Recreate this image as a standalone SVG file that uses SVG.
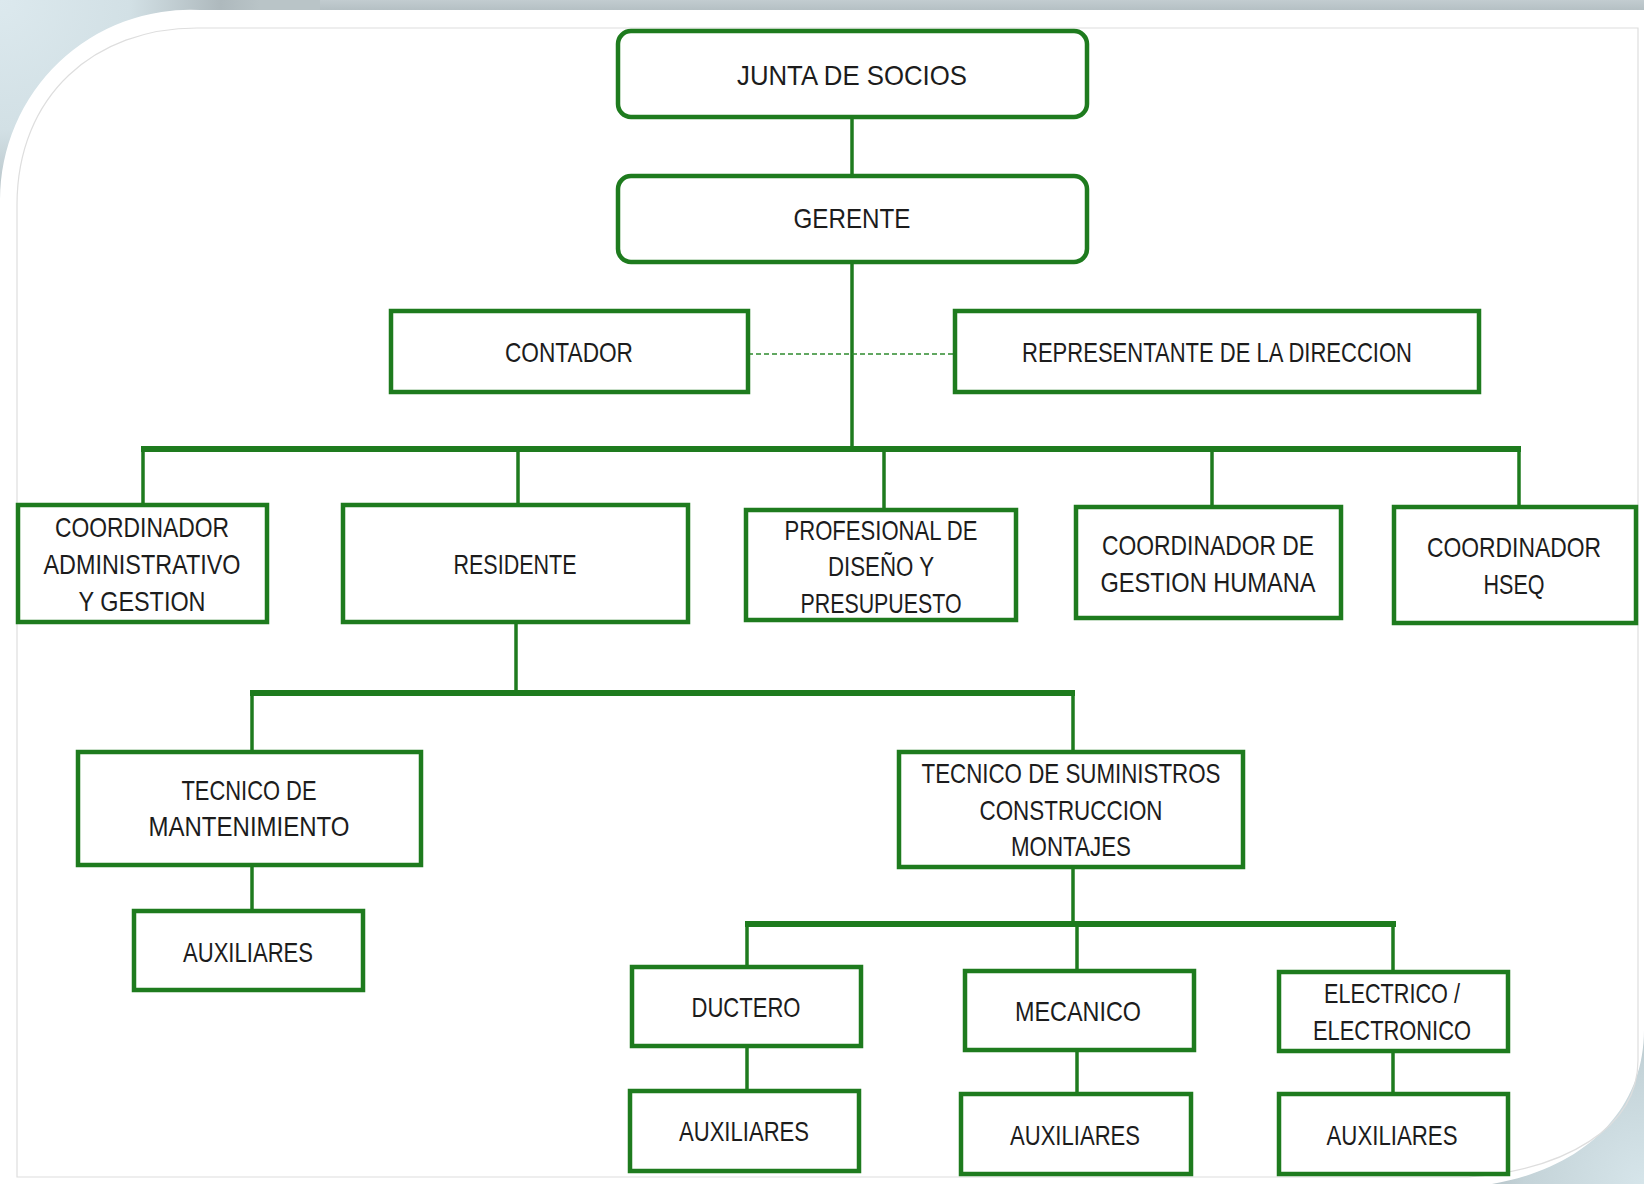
<svg xmlns="http://www.w3.org/2000/svg" width="1644" height="1184" viewBox="0 0 1644 1184">
<style>
.box{fill:#fff;stroke:#1e7b1e;stroke-width:4.5}
.t{font-family:"Liberation Sans",Arial,sans-serif;font-size:28px;fill:#1c1c1c;text-anchor:middle}
.v{stroke:#1e7b1e;stroke-width:3.5;fill:none}
.bar{stroke:#1e7b1e;stroke-width:6;fill:none}
.dash{stroke:#2e8b2e;stroke-width:1.5;stroke-dasharray:5 3;fill:none}
</style>
<defs>
<radialGradient id="gTL" cx="0" cy="0" r="260" gradientUnits="userSpaceOnUse">
<stop offset="0" stop-color="#dce9ee"/><stop offset="0.5" stop-color="#d2e0e5"/><stop offset="0.85" stop-color="#aeb9bd"/><stop offset="1" stop-color="#b9c4c7"/>
</radialGradient>
<radialGradient id="gBR" cx="1644" cy="1184" r="200" gradientUnits="userSpaceOnUse">
<stop offset="0" stop-color="#d6e5ea"/><stop offset="0.6" stop-color="#c4d3d8"/><stop offset="1" stop-color="#a4b0b4"/>
</radialGradient>
<linearGradient id="gTop" x1="0" y1="0" x2="0" y2="10" gradientUnits="userSpaceOnUse">
<stop offset="0" stop-color="#c2ccd0"/><stop offset="1" stop-color="#b5c0c4"/>
</linearGradient>
</defs>
<g id="background">
<rect x="0" y="0" width="1644" height="1184" fill="url(#gTop)"/>
<rect x="0" y="0" width="320" height="320" fill="url(#gTL)"/>
<rect x="1400" y="960" width="244" height="224" fill="url(#gBR)"/>
<path d="M0,1184 L0,200 A190,190 0 0 1 200,10 L1644,10 L1644,1030 C1644,1110 1585,1168 1492,1184 Z" fill="#fff"/>
<path d="M17,1177 L17,205 C17,95 95,28 197,28 L1638,28 L1638,1060 C1638,1128 1565,1170 1468,1177 Z" fill="none" stroke="#dedede" stroke-width="1.2"/>
</g>
<g id="connectors">
<line class="v" x1="852" y1="117" x2="852" y2="176"/>
<line class="v" x1="852" y1="262" x2="852" y2="449"/>
<line class="dash" x1="748" y1="354" x2="955" y2="354"/>
<line class="bar" x1="141" y1="449" x2="1521" y2="449"/>
<line class="v" x1="143" y1="449" x2="143" y2="505"/>
<line class="v" x1="518" y1="449" x2="518" y2="505"/>
<line class="v" x1="884" y1="449" x2="884" y2="510"/>
<line class="v" x1="1212" y1="449" x2="1212" y2="507"/>
<line class="v" x1="1519" y1="449" x2="1519" y2="507"/>
<line class="v" x1="516" y1="622" x2="516" y2="693"/>
<line class="bar" x1="250" y1="693" x2="1075" y2="693"/>
<line class="v" x1="252" y1="693" x2="252" y2="752"/>
<line class="v" x1="1073" y1="693" x2="1073" y2="752"/>
<line class="v" x1="252" y1="865" x2="252" y2="911"/>
<line class="v" x1="1073" y1="867" x2="1073" y2="924"/>
<line class="bar" x1="745" y1="924" x2="1396" y2="924"/>
<line class="v" x1="747" y1="924" x2="747" y2="967"/>
<line class="v" x1="1077" y1="924" x2="1077" y2="971"/>
<line class="v" x1="1393" y1="924" x2="1393" y2="972"/>
<line class="v" x1="747" y1="1046" x2="747" y2="1091"/>
<line class="v" x1="1077" y1="1050" x2="1077" y2="1094"/>
<line class="v" x1="1393" y1="1051" x2="1393" y2="1094"/>
</g>
<g id="junta"><rect class="box" x="618" y="31" width="469" height="86" rx="13"/><text class="t" x="852" y="85" textLength="230" lengthAdjust="spacingAndGlyphs">JUNTA DE SOCIOS</text></g>
<g id="gerente"><rect class="box" x="618" y="176" width="469" height="86" rx="13"/><text class="t" x="852" y="228" textLength="117" lengthAdjust="spacingAndGlyphs">GERENTE</text></g>
<g id="contador"><rect class="box" x="391" y="311" width="357" height="81"/><text class="t" x="569" y="362" textLength="128" lengthAdjust="spacingAndGlyphs">CONTADOR</text></g>
<g id="representante"><rect class="box" x="955" y="311" width="524" height="81"/><text class="t" x="1217" y="362" textLength="390" lengthAdjust="spacingAndGlyphs">REPRESENTANTE DE LA DIRECCION</text></g>
<g id="coord-admin"><rect class="box" x="18" y="505" width="249" height="117"/>
<text class="t" x="142" y="537" textLength="174" lengthAdjust="spacingAndGlyphs">COORDINADOR</text>
<text class="t" x="142" y="574" textLength="197" lengthAdjust="spacingAndGlyphs">ADMINISTRATIVO</text>
<text class="t" x="142" y="611" textLength="127" lengthAdjust="spacingAndGlyphs">Y  GESTION</text></g>
<g id="residente"><rect class="box" x="343" y="505" width="345" height="117"/><text class="t" x="515" y="574" textLength="123" lengthAdjust="spacingAndGlyphs">RESIDENTE</text></g>
<g id="profesional"><rect class="box" x="746" y="510" width="270" height="110"/>
<text class="t" x="881" y="540" textLength="193" lengthAdjust="spacingAndGlyphs">PROFESIONAL DE</text>
<text class="t" x="881" y="576" textLength="106" lengthAdjust="spacingAndGlyphs">DISEÑO Y</text>
<text class="t" x="881" y="613" textLength="161" lengthAdjust="spacingAndGlyphs">PRESUPUESTO</text></g>
<g id="coord-gh"><rect class="box" x="1076" y="507" width="265" height="111"/>
<text class="t" x="1208" y="555" textLength="212" lengthAdjust="spacingAndGlyphs">COORDINADOR DE</text>
<text class="t" x="1208" y="592" textLength="215" lengthAdjust="spacingAndGlyphs">GESTION HUMANA</text></g>
<g id="coord-hseq"><rect class="box" x="1394" y="507" width="242" height="116"/>
<text class="t" x="1514" y="557" textLength="174" lengthAdjust="spacingAndGlyphs">COORDINADOR</text>
<text class="t" x="1514" y="594" textLength="61" lengthAdjust="spacingAndGlyphs">HSEQ</text></g>
<g id="tec-mant"><rect class="box" x="78" y="752" width="343" height="113"/>
<text class="t" x="249" y="800" textLength="135" lengthAdjust="spacingAndGlyphs">TECNICO DE</text>
<text class="t" x="249" y="836" textLength="201" lengthAdjust="spacingAndGlyphs">MANTENIMIENTO</text></g>
<g id="aux-mant"><rect class="box" x="134" y="911" width="229" height="79"/><text class="t" x="248" y="962" textLength="130" lengthAdjust="spacingAndGlyphs">AUXILIARES</text></g>
<g id="tec-sum"><rect class="box" x="899" y="752" width="344" height="115"/>
<text class="t" x="1071" y="783" textLength="299" lengthAdjust="spacingAndGlyphs">TECNICO DE SUMINISTROS</text>
<text class="t" x="1071" y="820" textLength="183" lengthAdjust="spacingAndGlyphs">CONSTRUCCION</text>
<text class="t" x="1071" y="856" textLength="120" lengthAdjust="spacingAndGlyphs">MONTAJES</text></g>
<g id="ductero"><rect class="box" x="632" y="967" width="229" height="79"/><text class="t" x="746" y="1017" textLength="109" lengthAdjust="spacingAndGlyphs">DUCTERO</text></g>
<g id="mecanico"><rect class="box" x="965" y="971" width="229" height="79"/><text class="t" x="1078" y="1021" textLength="126" lengthAdjust="spacingAndGlyphs">MECANICO</text></g>
<g id="electrico"><rect class="box" x="1279" y="972" width="229" height="79"/>
<text class="t" x="1392" y="1003" textLength="136" lengthAdjust="spacingAndGlyphs">ELECTRICO /</text>
<text class="t" x="1392" y="1040" textLength="158" lengthAdjust="spacingAndGlyphs">ELECTRONICO</text></g>
<g id="aux-ductero"><rect class="box" x="630" y="1091" width="229" height="80"/><text class="t" x="744" y="1141" textLength="130" lengthAdjust="spacingAndGlyphs">AUXILIARES</text></g>
<g id="aux-mecanico"><rect class="box" x="961" y="1094" width="230" height="80"/><text class="t" x="1075" y="1145" textLength="130" lengthAdjust="spacingAndGlyphs">AUXILIARES</text></g>
<g id="aux-electrico"><rect class="box" x="1279" y="1094" width="229" height="80"/><text class="t" x="1392" y="1145" textLength="131" lengthAdjust="spacingAndGlyphs">AUXILIARES</text></g>
</svg>
